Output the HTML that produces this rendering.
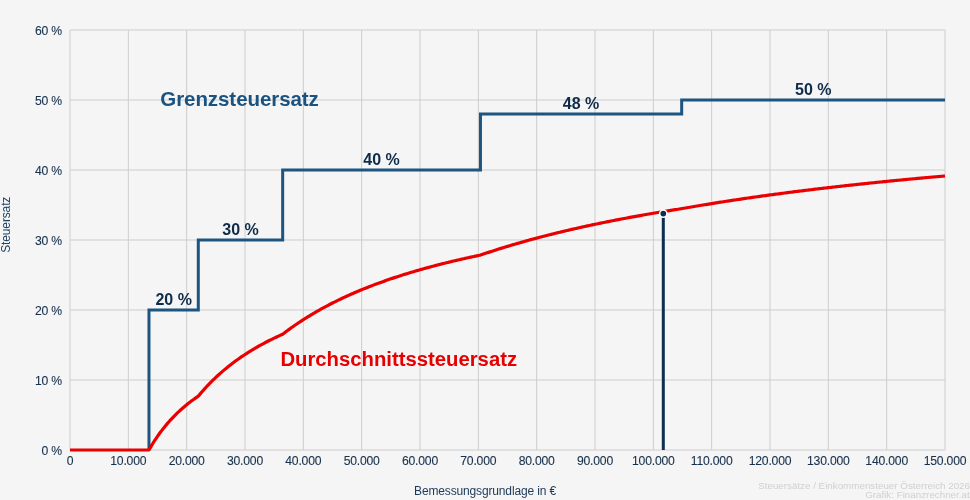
<!DOCTYPE html>
<html><head><meta charset="utf-8">
<style>
html,body{margin:0;padding:0;background:#f5f5f5;}
svg{display:block;will-change:transform;}
text{font-family:"Liberation Sans",sans-serif;}
</style></head><body>
<svg width="970" height="500" viewBox="0 0 970 500">
<rect width="970" height="500" fill="#f5f5f5"/>
<g stroke="#cdcdcd" stroke-width="1"><line x1="70.00" y1="30" x2="70.00" y2="450"/><line x1="128.33" y1="30" x2="128.33" y2="450"/><line x1="186.67" y1="30" x2="186.67" y2="450"/><line x1="245.00" y1="30" x2="245.00" y2="450"/><line x1="303.33" y1="30" x2="303.33" y2="450"/><line x1="361.67" y1="30" x2="361.67" y2="450"/><line x1="420.00" y1="30" x2="420.00" y2="450"/><line x1="478.33" y1="30" x2="478.33" y2="450"/><line x1="536.67" y1="30" x2="536.67" y2="450"/><line x1="595.00" y1="30" x2="595.00" y2="450"/><line x1="653.33" y1="30" x2="653.33" y2="450"/><line x1="711.67" y1="30" x2="711.67" y2="450"/><line x1="770.00" y1="30" x2="770.00" y2="450"/><line x1="828.33" y1="30" x2="828.33" y2="450"/><line x1="886.67" y1="30" x2="886.67" y2="450"/><line x1="945.00" y1="30" x2="945.00" y2="450"/><line x1="70" y1="30" x2="945" y2="30"/><line x1="70" y1="100" x2="945" y2="100"/><line x1="70" y1="170" x2="945" y2="170"/><line x1="70" y1="240" x2="945" y2="240"/><line x1="70" y1="310" x2="945" y2="310"/><line x1="70" y1="380" x2="945" y2="380"/><line x1="70" y1="450" x2="945" y2="450"/></g>
<path d="M148.98,450.00 L148.98,310.00 L198.29,310.00 L198.29,240.00 L282.67,240.00 L282.67,170.00 L480.46,170.00 L480.46,114.00 L681.68,114.00 L681.68,100.00 L945.00,100.00" fill="none" stroke="#1d5580" stroke-width="3" stroke-linejoin="miter"/>
<path d="M70.00,450.00 L71.46,450.00 L72.92,450.00 L74.38,450.00 L75.83,450.00 L77.29,450.00 L78.75,450.00 L80.21,450.00 L81.67,450.00 L83.12,450.00 L84.58,450.00 L86.04,450.00 L87.50,450.00 L88.96,450.00 L90.42,450.00 L91.88,450.00 L93.33,450.00 L94.79,450.00 L96.25,450.00 L97.71,450.00 L99.17,450.00 L100.62,450.00 L102.08,450.00 L103.54,450.00 L105.00,450.00 L106.46,450.00 L107.92,450.00 L109.38,450.00 L110.83,450.00 L112.29,450.00 L113.75,450.00 L115.21,450.00 L116.67,450.00 L118.12,450.00 L119.58,450.00 L121.04,450.00 L122.50,450.00 L123.96,450.00 L125.42,450.00 L126.88,450.00 L128.33,450.00 L129.79,450.00 L131.25,450.00 L132.71,450.00 L134.17,450.00 L135.62,450.00 L137.08,450.00 L138.54,450.00 L140.00,450.00 L141.46,450.00 L142.92,450.00 L144.38,450.00 L145.83,450.00 L147.29,450.00 L148.75,450.00 L148.98,450.00 L150.21,447.85 L151.67,445.39 L153.12,443.01 L154.58,440.72 L156.04,438.51 L157.50,436.36 L158.96,434.29 L160.42,432.29 L161.88,430.35 L163.33,428.47 L164.79,426.64 L166.25,424.88 L167.71,423.16 L169.17,421.50 L170.62,419.88 L172.08,418.31 L173.54,416.79 L175.00,415.30 L176.46,413.86 L177.92,412.46 L179.38,411.09 L180.83,409.76 L182.29,408.47 L183.75,407.20 L185.21,405.97 L186.67,404.77 L188.12,403.60 L189.58,402.46 L191.04,401.35 L192.50,400.26 L193.96,399.20 L195.42,398.16 L196.88,397.15 L198.29,396.19 L198.33,396.13 L199.79,394.38 L201.25,392.66 L202.71,390.98 L204.17,389.34 L205.62,387.74 L207.08,386.17 L208.54,384.63 L210.00,383.12 L211.46,381.65 L212.92,380.20 L214.38,378.78 L215.83,377.40 L217.29,376.04 L218.75,374.70 L220.21,373.39 L221.67,372.11 L223.12,370.85 L224.58,369.62 L226.04,368.41 L227.50,367.22 L228.96,366.05 L230.42,364.91 L231.88,363.78 L233.33,362.68 L234.79,361.59 L236.25,360.52 L237.71,359.47 L239.17,358.44 L240.62,357.43 L242.08,356.44 L243.54,355.46 L245.00,354.50 L246.46,353.55 L247.92,352.62 L249.38,351.70 L250.83,350.80 L252.29,349.92 L253.75,349.04 L255.21,348.19 L256.67,347.34 L258.12,346.51 L259.58,345.69 L261.04,344.88 L262.50,344.09 L263.96,343.31 L265.42,342.53 L266.88,341.77 L268.33,341.03 L269.79,340.29 L271.25,339.56 L272.71,338.85 L274.17,338.14 L275.62,337.44 L277.08,336.76 L278.54,336.08 L280.00,335.41 L281.46,334.76 L282.67,334.22 L282.92,334.03 L284.38,332.91 L285.83,331.81 L287.29,330.72 L288.75,329.65 L290.21,328.59 L291.67,327.55 L293.12,326.52 L294.58,325.51 L296.04,324.50 L297.50,323.51 L298.96,322.53 L300.42,321.57 L301.88,320.62 L303.33,319.67 L304.79,318.74 L306.25,317.83 L307.71,316.92 L309.17,316.02 L310.62,315.14 L312.08,314.26 L313.54,313.40 L315.00,312.55 L316.46,311.70 L317.92,310.87 L319.38,310.05 L320.83,309.23 L322.29,308.43 L323.75,307.63 L325.21,306.84 L326.67,306.07 L328.12,305.30 L329.58,304.54 L331.04,303.79 L332.50,303.04 L333.96,302.31 L335.42,301.58 L336.88,300.86 L338.33,300.15 L339.79,299.45 L341.25,298.75 L342.71,298.06 L344.17,297.38 L345.62,296.71 L347.08,296.04 L348.54,295.38 L350.00,294.73 L351.46,294.08 L352.92,293.44 L354.38,292.81 L355.83,292.18 L357.29,291.56 L358.75,290.95 L360.21,290.34 L361.67,289.74 L363.12,289.14 L364.58,288.55 L366.04,287.97 L367.50,287.39 L368.96,286.82 L370.42,286.25 L371.88,285.69 L373.33,285.13 L374.79,284.58 L376.25,284.04 L377.71,283.50 L379.17,282.96 L380.62,282.43 L382.08,281.91 L383.54,281.39 L385.00,280.87 L386.46,280.36 L387.92,279.85 L389.38,279.35 L390.83,278.85 L392.29,278.36 L393.75,277.87 L395.21,277.39 L396.67,276.91 L398.12,276.43 L399.58,275.96 L401.04,275.50 L402.50,275.03 L403.96,274.58 L405.42,274.12 L406.88,273.67 L408.33,273.22 L409.79,272.78 L411.25,272.34 L412.71,271.91 L414.17,271.47 L415.62,271.05 L417.08,270.62 L418.54,270.20 L420.00,269.78 L421.46,269.37 L422.92,268.96 L424.38,268.55 L425.83,268.15 L427.29,267.75 L428.75,267.35 L430.21,266.95 L431.67,266.56 L433.12,266.18 L434.58,265.79 L436.04,265.41 L437.50,265.03 L438.96,264.66 L440.42,264.28 L441.88,263.91 L443.33,263.55 L444.79,263.18 L446.25,262.82 L447.71,262.46 L449.17,262.11 L450.62,261.75 L452.08,261.40 L453.54,261.06 L455.00,260.71 L456.46,260.37 L457.92,260.03 L459.38,259.69 L460.83,259.36 L462.29,259.03 L463.75,258.70 L465.21,258.37 L466.67,258.04 L468.12,257.72 L469.58,257.40 L471.04,257.08 L472.50,256.77 L473.96,256.45 L475.42,256.14 L476.88,255.83 L478.33,255.53 L479.79,255.22 L480.46,255.08 L481.25,254.81 L482.71,254.32 L484.17,253.82 L485.62,253.33 L487.08,252.84 L488.54,252.36 L490.00,251.88 L491.46,251.40 L492.92,250.93 L494.38,250.46 L495.83,249.99 L497.29,249.53 L498.75,249.07 L500.21,248.61 L501.67,248.15 L503.12,247.70 L504.58,247.25 L506.04,246.81 L507.50,246.37 L508.96,245.93 L510.42,245.49 L511.88,245.05 L513.33,244.62 L514.79,244.20 L516.25,243.77 L517.71,243.35 L519.17,242.93 L520.62,242.51 L522.08,242.10 L523.54,241.68 L525.00,241.27 L526.46,240.87 L527.92,240.46 L529.38,240.06 L530.83,239.66 L532.29,239.27 L533.75,238.87 L535.21,238.48 L536.67,238.09 L538.12,237.71 L539.58,237.32 L541.04,236.94 L542.50,236.56 L543.96,236.18 L545.42,235.81 L546.88,235.44 L548.33,235.07 L549.79,234.70 L551.25,234.33 L552.71,233.97 L554.17,233.61 L555.62,233.25 L557.08,232.89 L558.54,232.54 L560.00,232.18 L561.46,231.83 L562.92,231.48 L564.38,231.14 L565.83,230.79 L567.29,230.45 L568.75,230.11 L570.21,229.77 L571.67,229.43 L573.12,229.10 L574.58,228.77 L576.04,228.44 L577.50,228.11 L578.96,227.78 L580.42,227.46 L581.88,227.13 L583.33,226.81 L584.79,226.49 L586.25,226.17 L587.71,225.86 L589.17,225.54 L590.62,225.23 L592.08,224.92 L593.54,224.61 L595.00,224.30 L596.46,224.00 L597.92,223.70 L599.38,223.39 L600.83,223.09 L602.29,222.79 L603.75,222.50 L605.21,222.20 L606.67,221.91 L608.12,221.61 L609.58,221.32 L611.04,221.03 L612.50,220.75 L613.96,220.46 L615.42,220.18 L616.88,219.89 L618.33,219.61 L619.79,219.33 L621.25,219.05 L622.71,218.77 L624.17,218.50 L625.62,218.22 L627.08,217.95 L628.54,217.68 L630.00,217.41 L631.46,217.14 L632.92,216.87 L634.38,216.61 L635.83,216.34 L637.29,216.08 L638.75,215.82 L640.21,215.56 L641.67,215.30 L643.12,215.04 L644.58,214.79 L646.04,214.53 L647.50,214.28 L648.96,214.02 L650.42,213.77 L651.88,213.52 L653.33,213.27 L654.79,213.03 L656.25,212.78 L657.71,212.53 L659.17,212.29 L660.62,212.05 L662.08,211.81 L663.54,211.57 L665.00,211.33 L666.46,211.09 L667.92,210.85 L669.38,210.62 L670.83,210.38 L672.29,210.15 L673.75,209.92 L675.21,209.69 L676.67,209.46 L678.12,209.23 L679.58,209.00 L681.04,208.77 L681.68,208.67 L682.50,208.53 L683.96,208.27 L685.42,208.01 L686.88,207.76 L688.33,207.50 L689.79,207.25 L691.25,207.00 L692.71,206.75 L694.17,206.50 L695.62,206.25 L697.08,206.00 L698.54,205.76 L700.00,205.51 L701.46,205.27 L702.92,205.03 L704.38,204.79 L705.83,204.55 L707.29,204.31 L708.75,204.07 L710.21,203.83 L711.67,203.59 L713.12,203.36 L714.58,203.13 L716.04,202.89 L717.50,202.66 L718.96,202.43 L720.42,202.20 L721.88,201.97 L723.33,201.74 L724.79,201.52 L726.25,201.29 L727.71,201.07 L729.17,200.84 L730.62,200.62 L732.08,200.40 L733.54,200.18 L735.00,199.96 L736.46,199.74 L737.92,199.52 L739.38,199.31 L740.83,199.09 L742.29,198.88 L743.75,198.66 L745.21,198.45 L746.67,198.24 L748.12,198.03 L749.58,197.81 L751.04,197.61 L752.50,197.40 L753.96,197.19 L755.42,196.98 L756.88,196.78 L758.33,196.57 L759.79,196.37 L761.25,196.16 L762.71,195.96 L764.17,195.76 L765.62,195.56 L767.08,195.36 L768.54,195.16 L770.00,194.96 L771.46,194.76 L772.92,194.57 L774.38,194.37 L775.83,194.18 L777.29,193.98 L778.75,193.79 L780.21,193.60 L781.67,193.41 L783.12,193.21 L784.58,193.02 L786.04,192.83 L787.50,192.65 L788.96,192.46 L790.42,192.27 L791.88,192.08 L793.33,191.90 L794.79,191.71 L796.25,191.53 L797.71,191.35 L799.17,191.16 L800.62,190.98 L802.08,190.80 L803.54,190.62 L805.00,190.44 L806.46,190.26 L807.92,190.08 L809.38,189.90 L810.83,189.73 L812.29,189.55 L813.75,189.38 L815.21,189.20 L816.67,189.03 L818.12,188.85 L819.58,188.68 L821.04,188.51 L822.50,188.34 L823.96,188.17 L825.42,188.00 L826.88,187.83 L828.33,187.66 L829.79,187.49 L831.25,187.32 L832.71,187.15 L834.17,186.99 L835.62,186.82 L837.08,186.66 L838.54,186.49 L840.00,186.33 L841.46,186.17 L842.92,186.00 L844.38,185.84 L845.83,185.68 L847.29,185.52 L848.75,185.36 L850.21,185.20 L851.67,185.04 L853.12,184.88 L854.58,184.72 L856.04,184.57 L857.50,184.41 L858.96,184.25 L860.42,184.10 L861.88,183.94 L863.33,183.79 L864.79,183.64 L866.25,183.48 L867.71,183.33 L869.17,183.18 L870.62,183.03 L872.08,182.88 L873.54,182.73 L875.00,182.58 L876.46,182.43 L877.92,182.28 L879.38,182.13 L880.83,181.98 L882.29,181.83 L883.75,181.69 L885.21,181.54 L886.67,181.40 L888.12,181.25 L889.58,181.11 L891.04,180.96 L892.50,180.82 L893.96,180.68 L895.42,180.53 L896.88,180.39 L898.33,180.25 L899.79,180.11 L901.25,179.97 L902.71,179.83 L904.17,179.69 L905.62,179.55 L907.08,179.41 L908.54,179.27 L910.00,179.13 L911.46,179.00 L912.92,178.86 L914.38,178.72 L915.83,178.59 L917.29,178.45 L918.75,178.32 L920.21,178.18 L921.67,178.05 L923.12,177.92 L924.58,177.78 L926.04,177.65 L927.50,177.52 L928.96,177.39 L930.42,177.26 L931.88,177.13 L933.33,177.00 L934.79,176.87 L936.25,176.74 L937.71,176.61 L939.17,176.48 L940.62,176.35 L942.08,176.22 L943.54,176.10 L945.00,175.97" fill="none" stroke="#ea0000" stroke-width="3.2" stroke-linejoin="round"/>
<line x1="663.3" y1="213.6" x2="663.3" y2="450" stroke="#0f2e4f" stroke-width="3"/>
<circle cx="663.3" cy="213.6" r="3.6" fill="#0f2e4f" stroke="#ffffff" stroke-width="1.5"/>
<g font-size="12.2" letter-spacing="-0.2" fill="#17314d" stroke="#17314d" stroke-width="0.1"><text x="62" y="455.0" text-anchor="end">0 %</text><text x="62" y="385.0" text-anchor="end">10 %</text><text x="62" y="315.0" text-anchor="end">20 %</text><text x="62" y="245.0" text-anchor="end">30 %</text><text x="62" y="175.0" text-anchor="end">40 %</text><text x="62" y="105.0" text-anchor="end">50 %</text><text x="62" y="35.0" text-anchor="end">60 %</text><text x="70.00" y="465" text-anchor="middle">0</text><text x="128.33" y="465" text-anchor="middle">10.000</text><text x="186.67" y="465" text-anchor="middle">20.000</text><text x="245.00" y="465" text-anchor="middle">30.000</text><text x="303.33" y="465" text-anchor="middle">40.000</text><text x="361.67" y="465" text-anchor="middle">50.000</text><text x="420.00" y="465" text-anchor="middle">60.000</text><text x="478.33" y="465" text-anchor="middle">70.000</text><text x="536.67" y="465" text-anchor="middle">80.000</text><text x="595.00" y="465" text-anchor="middle">90.000</text><text x="653.33" y="465" text-anchor="middle">100.000</text><text x="711.67" y="465" text-anchor="middle">110.000</text><text x="770.00" y="465" text-anchor="middle">120.000</text><text x="828.33" y="465" text-anchor="middle">130.000</text><text x="886.67" y="465" text-anchor="middle">140.000</text><text x="945.00" y="465" text-anchor="middle">150.000</text></g>
<g font-size="16" font-weight="bold" fill="#0e2c4a"><text x="173.63" y="305.0" text-anchor="middle">20 %</text><text x="240.48" y="235.0" text-anchor="middle">30 %</text><text x="381.57" y="165.0" text-anchor="middle">40 %</text><text x="581.07" y="109.0" text-anchor="middle">48 %</text><text x="813.34" y="95.0" text-anchor="middle">50 %</text></g>
<text x="160.3" y="105.7" font-size="20.5" letter-spacing="-0.07" font-weight="bold" fill="#1a5380">Grenzsteuersatz</text>
<text x="280.4" y="365.6" font-size="20.3" font-weight="bold" fill="#e80000">Durchschnittssteuersatz</text>
<text x="485" y="495" font-size="12" letter-spacing="-0.15" text-anchor="middle" fill="#1d3857">Bemessungsgrundlage in €</text>
<text transform="translate(10.2,224.8) rotate(-90)" font-size="12" letter-spacing="-0.13" text-anchor="middle" fill="#1c3f62">Steuersatz</text>
<g font-size="9.8" text-anchor="end" fill="#d0d0d0">
<text x="970" y="489">Steuersätze / Einkommensteuer Österreich 2026</text>
<text x="969.7" y="498.3">Grafik: Finanzrechner.at</text>
</g>
</svg>
</body></html>
